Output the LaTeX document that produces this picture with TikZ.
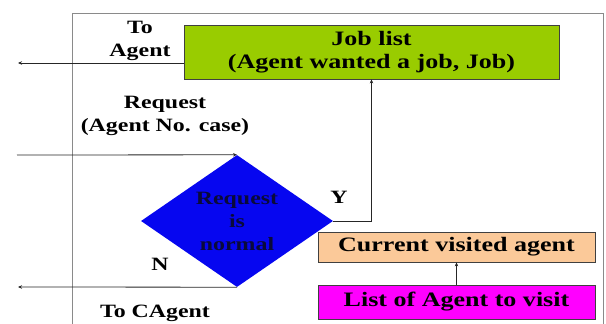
\documentclass[tikz,border=0pt]{standalone}
\usepackage{fontspec}
\setmainfont{Liberation Serif}[FakeStretch=1.27]
\usetikzlibrary{shapes.geometric,arrows.meta}
\definecolor{jobgreen}{HTML}{99CC00}
\definecolor{diablue}{HTML}{0606F0}
\definecolor{peach}{HTML}{FBC999}
\definecolor{magentab}{HTML}{FF00FF}
\definecolor{framegray}{HTML}{8A8A8A}
\definecolor{navytext}{HTML}{0A0A3A}
\tikzset{
  box/.style={draw=black!75, line width=0.8pt, rectangle, inner sep=0pt, align=center,
    font=\fontsize{20.5}{23}\selectfont\bfseries},
  lbl/.style={align=center, inner sep=0pt, font=\fontsize{18.8}{22.5}\selectfont\bfseries},
  arr/.style={draw=black!85, line width=0.8pt, -{Stealth[length=4pt,width=3.5pt]}},
  frame/.style={draw=framegray, line width=0.8pt}
}
\begin{document}
\begin{tikzpicture}[x=1pt,y=-1pt]
\useasboundingbox (0,0) rectangle (606,324);
% frame
\draw[frame] (72,324) -- (72,13) -- (603,13) -- (603,324);
% nodes
\node[box, fill=jobgreen, minimum width=375pt, minimum height=54pt] (job) at (371.5,52)
  {Job list\\(Agent wanted a job, Job)};
\node[box, fill=peach, minimum width=277pt, minimum height=30pt] (cur) at (456.5,247)
  {Current visited agent};
\node[box, fill=magentab, minimum width=277pt, minimum height=34pt] (list) at (456.5,302)
  {List of Agent to visit};
\node[diamond, fill=diablue, inner sep=0pt, shape aspect=1.45, minimum width=192pt, minimum height=132pt,
  align=center, text=navytext, font=\fontsize{18.8}{23}\selectfont\bfseries] (dia) at (237,221)
  {Request\\is\\normal};
% labels
\node[lbl] (ltoagent) at (140,41) {To\\Agent};
\node[lbl] (lreq) at (165,116) {Request\\(Agent No. case)};
\node[lbl] (ly) at (339,197) {Y};
\node[lbl] (ln) at (160,264) {N};
\node[lbl] (ltoc) at (155,313) {To CAgent};
% free ends
\coordinate (toagent) at (18,63);
\coordinate (reqin) at (17,155);
\coordinate (tocagent) at (18,287);
% connectors
\draw[arr] (job.west |- toagent) -- (toagent);
\draw[arr] (reqin) -- (dia.north);
\draw[arr] (dia.east) -| (job.south);
\draw[arr] (dia.south) -- (tocagent);
\draw[arr] (list.north) -- (cur.south);
\end{tikzpicture}
\end{document}
